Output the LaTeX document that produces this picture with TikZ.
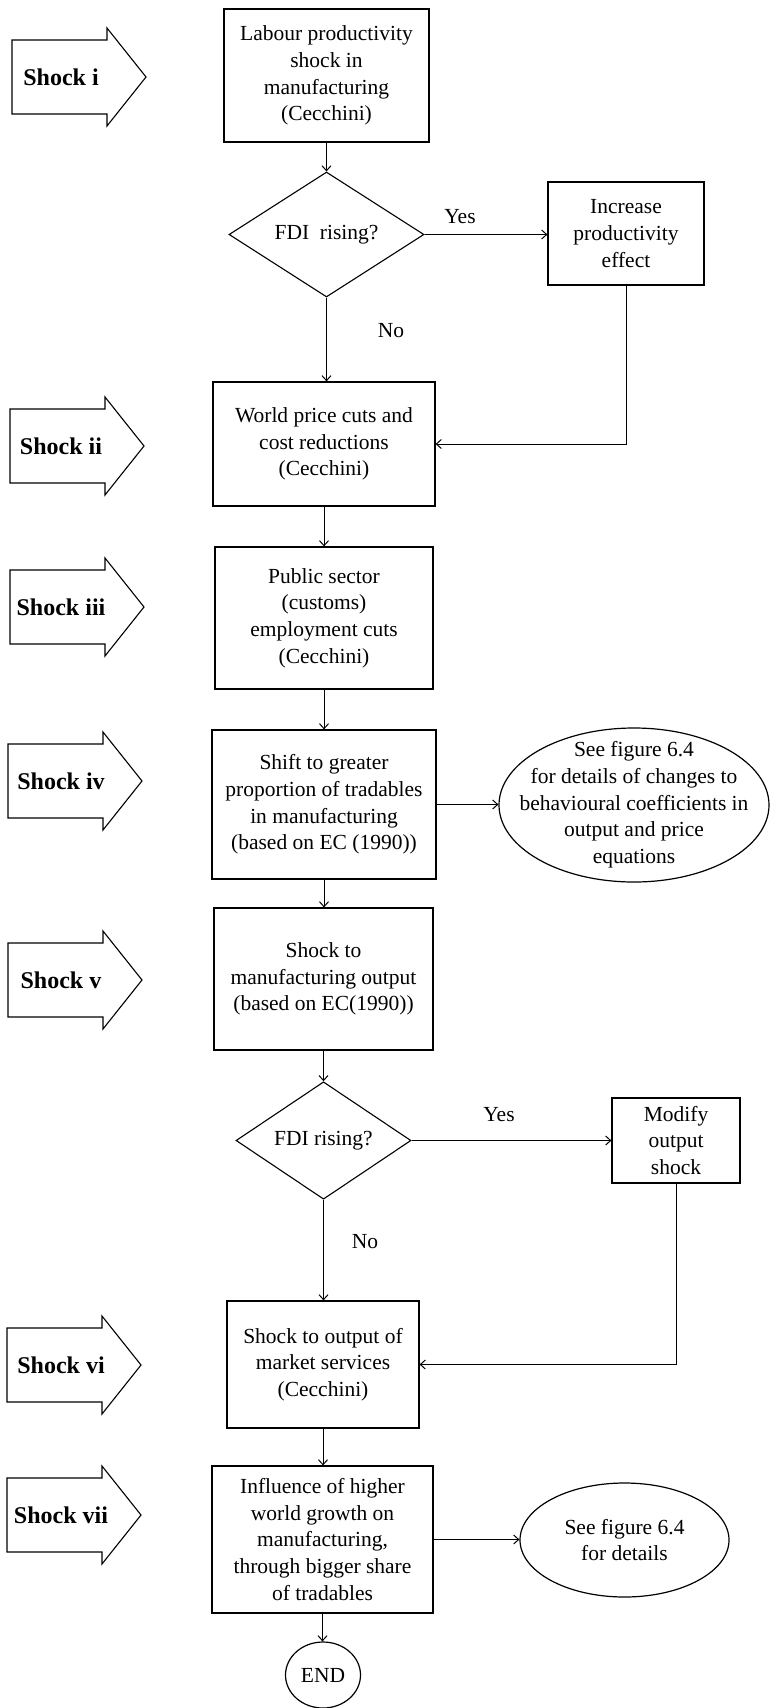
\documentclass[tikz,border=0pt]{standalone}
\usepackage{fontspec}
\setmainfont{Liberation Serif}
\usetikzlibrary{arrows.meta,shapes.geometric}

\newcommand\shockarr[4]{%
  \draw[shockline] (#2,#3-37) -- (#2+95,#3-37) -- (#2+95,#3-49) -- (#2+134,#3)
    -- (#2+95,#3+49) -- (#2+95,#3+37) -- (#2,#3+37) -- cycle;
  \node[shocktext] (#1) at (61,#3) {#4};
}

\begin{document}
\begin{tikzpicture}[x=1pt,y=-1pt,
  txt/.style={font=\fontsize{21.5}{26.7}\selectfont},
  box/.style 2 args={draw,line width=1.2pt,align=center,inner sep=0pt,
    minimum width=#1,minimum height=#2,txt},
  dia/.style 2 args={draw,diamond,line width=1.1pt,inner sep=0pt,
    minimum width=#1,minimum height=#2,txt},
  ell/.style 2 args={draw,ellipse,line width=1.2pt,inner sep=0pt,
    minimum width=#1,minimum height=#2,align=center,txt},
  shockline/.style={line width=1.1pt,line join=miter},
  shocktext/.style={font=\fontsize{24}{28}\selectfont\bfseries,inner sep=0pt},
  conn/.style={line width=1pt,-{Straight Barb[length=5pt,width=9pt]}},
  lab/.style={txt,inner sep=0pt}]
\useasboundingbox (0,0) rectangle (769,1708);

% shock arrows
\shockarr{s1}{12}{77}{Shock i}
\shockarr{s2}{10}{446}{Shock ii}
\shockarr{s3}{10}{607}{Shock iii}
\shockarr{s4}{8}{781}{Shock iv}
\shockarr{s5}{8}{980}{Shock v}
\shockarr{s6}{7}{1365}{Shock vi}
\shockarr{s7}{7}{1515}{Shock vii}

% main nodes
\node[box={205pt}{133pt}] (b1) at (326.5,75.5)
  {Labour productivity\\shock in\\manufacturing\\(Cecchini)};
\node[dia={195pt}{125pt}] (d1) at (326.5,234.5) {FDI\ \ rising?};
\node[box={156pt}{103pt}] (inc) at (626,233.5)
  {Increase\\productivity\\effect};
\node[box={222pt}{124pt}] (b2) at (324,444)
  {World price cuts and\\cost reductions\\(Cecchini)};
\node[box={218pt}{142pt}] (b3) at (324,618)
  {Public sector\\(customs)\\employment cuts\\(Cecchini)};
\node[box={224pt}{149pt}] (b4) at (324,804.5)
  {Shift to greater\\proportion of tradables\\in manufacturing\\(based on EC (1990))};
\node[draw,ellipse,line width=1.2pt,inner sep=0pt,minimum width=270pt,
  minimum height=154pt] (e1) at (634,805) {};
\node[txt,align=center,inner sep=0pt] (e1t) at (e1.center)
  {See figure 6.4\\for details of changes to\\behavioural coefficients in\\output and price\\equations};
\node[box={219pt}{142pt}] (b5) at (323.5,979)
  {Shock to\\manufacturing output\\(based on EC(1990))};
\node[dia={175pt}{115pt}] (d2) at (323.5,1140.5) {FDI rising?};
\node[box={128pt}{85pt}] (mod) at (676,1140.5) {Modify\\output\\shock};
\node[box={192pt}{127pt}] (b6) at (323,1364.5)
  {Shock to output of\\market services\\(Cecchini)};
\node[box={221pt}{147pt}] (b7) at (322.5,1539.5)
  {Influence of higher\\world growth on\\manufacturing,\\through bigger share\\of tradables};
\node[ell={209pt}{114pt}] (e2) at (624.5,1540) {See figure 6.4\\for details};
\node[ell={75pt}{66pt}] (endn) at (323,1675) {END};

% labels
\node[lab] (y1) at (460,217) {Yes};
\node[lab] (n1) at (391,331) {No};
\node[lab] (y2) at (499,1115) {Yes};
\node[lab] (n2) at (365,1242) {No};

% connectors
\draw[conn] (b1.south) -- (b1.south |- d1.north);
\draw[conn] (d1.south) -- (d1.south |- b2.north);
\draw[conn] (d1.east) -- (d1.east -| inc.west);
\draw[conn] (inc.south) |- (b2.east);
\draw[conn] (b2.south) -- (b2.south |- b3.north);
\draw[conn] (b3.south) -- (b3.south |- b4.north);
\draw[conn] (b4.east) -- (b4.east -| e1.west);
\draw[conn] (b4.south) -- (b4.south |- b5.north);
\draw[conn] (b5.south) -- (b5.south |- d2.north);
\draw[conn] (d2.east) -- (d2.east -| mod.west);
\draw[conn] (d2.south) -- (d2.south |- b6.north);
\draw[conn] (mod.south) |- (b6.east);
\draw[conn] (b6.south) -- (b6.south |- b7.north);
\draw[conn] (b7.east) -- (b7.east -| e2.west);
\draw[conn] (b7.south) -- (b7.south |- endn.north);
\end{tikzpicture}
\end{document}
